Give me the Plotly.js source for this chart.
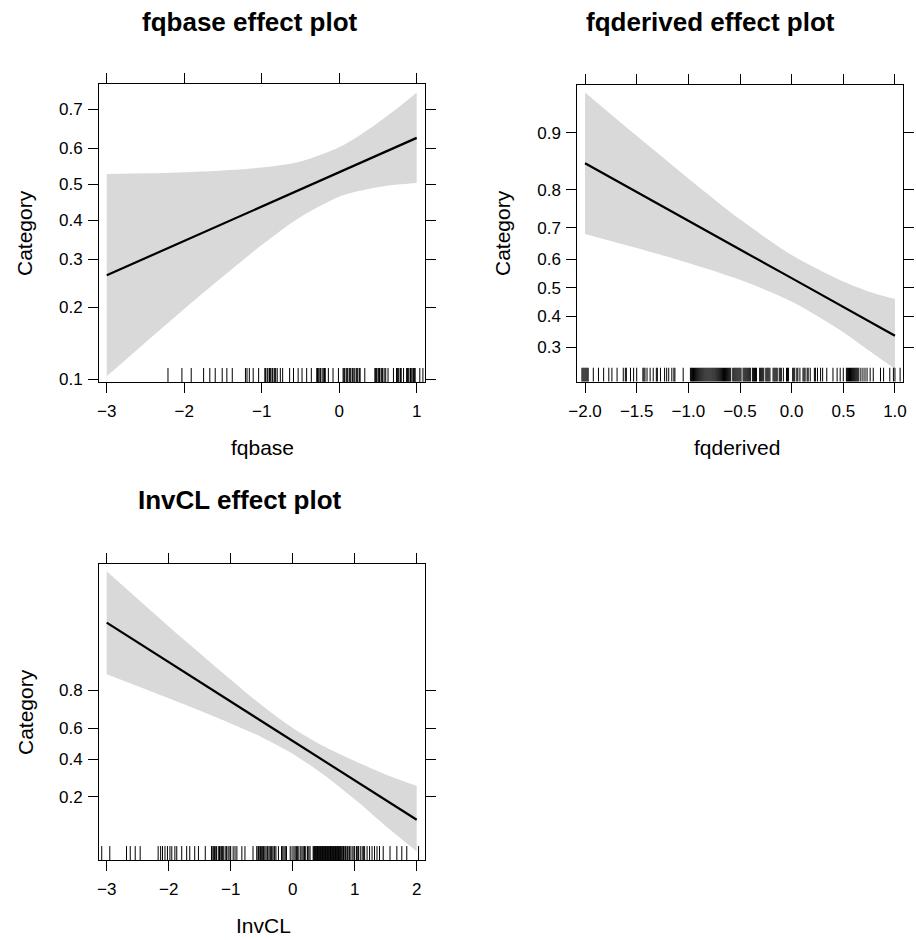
<!DOCTYPE html>
<html>
<head>
<meta charset="utf-8">
<script src="https://cdn.plot.ly/plotly-3.0.1.min.js"></script>
<style>html,body{margin:0;padding:0;background:#fff;}</style>
</head>
<body>
<div id="chart" style="width:916px;height:940px;"></div>
<script>
// ---------- data ----------
// Panel 1: fqbase
const fqbaseX     = [-3, -2, -1, -0.5, 0, 0.25, 0.5, 0.75, 1];
const fqbaseFit   = [0.264, 0.346, 0.438, 0.486, 0.534, 0.558, 0.582, 0.605, 0.628];
const fqbaseUpper = [0.529, 0.534, 0.547, 0.564, 0.603, 0.633, 0.667, 0.702, 0.738];
const fqbaseLower = [0.103, 0.197, 0.335, 0.409, 0.465, 0.481, 0.492, 0.4995, 0.504];
const fqbaseRug = [-2.21, -2.03, -1.91, -1.75, -1.67, -1.60, -1.51, -1.45, -1.38, -1.21, -1.19, -1.16, -1.11, -1.04,
  -0.96, -0.95, -0.93, -0.92, -0.90, -0.89, -0.88, -0.86, -0.84, -0.83, -0.82, -0.80, -0.76, -0.73, -0.64, -0.59,
  -0.53, -0.48, -0.42, -0.36, -0.29, -0.28, -0.27, -0.25, -0.24, -0.22, -0.20, -0.19, -0.18, -0.14, -0.08, -0.01,
  0.05, 0.06, 0.07, 0.09, 0.10, 0.11, 0.13, 0.14, 0.15, 0.17, 0.18, 0.20, 0.22, 0.23, 0.24, 0.26, 0.27, 0.33,
  0.46, 0.47, 0.48, 0.50, 0.51, 0.52, 0.54, 0.55, 0.56, 0.58, 0.60, 0.63, 0.70, 0.74, 0.75, 0.76, 0.77, 0.79, 0.80,
  0.83, 0.87, 0.88, 0.89, 0.90, 0.92, 0.93, 0.95, 0.96, 0.97, 0.98, 1.04, 1.08];
const fqbaseXTicks = [-3, -2, -1, 0, 1];
const fqbaseYTicks = [0.1, 0.2, 0.3, 0.4, 0.5, 0.6, 0.7];

// Panel 2: fqderived
const fqderivedX     = [-2, -1.5, -1, -0.5, 0, 0.5, 0.75, 1];
const fqderivedFit   = [0.854, 0.795, 0.721, 0.632, 0.534, 0.432, 0.383, 0.336];
const fqderivedUpper = [0.941, 0.896, 0.825, 0.725, 0.614, 0.522, 0.486, 0.460];
const fqderivedLower = [0.682, 0.637, 0.587, 0.528, 0.451, 0.347, 0.290, 0.240];
const fqderivedRug = [-2.03, -2.02, -2.01, -2.0, -1.99, -1.98, -1.97, -1.92, -1.87, -1.82, -1.77, -1.74, -1.69, -1.63,
  -1.61, -1.60, -1.56, -1.53, -1.50, -1.44, -1.43, -1.42, -1.40, -1.37, -1.34, -1.31, -1.30, -1.27, -1.23, -1.21,
  -1.19, -1.16, -1.14, -1.13, -1.05, -0.98, -0.97, -0.96, -0.95, -0.94, -0.93, -0.92, -0.91, -0.90, -0.89, -0.88,
  -0.87, -0.86, -0.85, -0.84, -0.83, -0.82, -0.81, -0.80, -0.79, -0.78, -0.77, -0.76, -0.75, -0.74, -0.73, -0.72,
  -0.71, -0.70, -0.69, -0.68, -0.67, -0.66, -0.65, -0.64, -0.63, -0.62, -0.61, -0.60, -0.59, -0.57, -0.56, -0.55,
  -0.54, -0.53, -0.52, -0.51, -0.50, -0.49, -0.47, -0.46, -0.45, -0.44, -0.43, -0.42, -0.41, -0.40, -0.38, -0.37,
  -0.36, -0.35, -0.34, -0.31, -0.30, -0.29, -0.28, -0.27, -0.25, -0.24, -0.23, -0.22, -0.21, -0.18, -0.17, -0.16,
  -0.15, -0.14, -0.12, -0.11, -0.10, -0.08, -0.05, -0.04, -0.03, 0.01, 0.02, 0.03, 0.05, 0.06, 0.08, 0.11, 0.12,
  0.13, 0.15, 0.16, 0.18, 0.22, 0.23, 0.25, 0.28, 0.30, 0.34, 0.40, 0.44, 0.47, 0.50, 0.53, 0.54, 0.55, 0.56, 0.57,
  0.58, 0.59, 0.60, 0.61, 0.62, 0.63, 0.64, 0.65, 0.67, 0.69, 0.71, 0.73, 0.76, 0.79, 0.86, 0.89, 0.95, 0.985, 1.0,
  1.05];
const fqderivedXTicks = [-2.0, -1.5, -1.0, -0.5, 0.0, 0.5, 1.0];
const fqderivedYTicks = [0.3, 0.4, 0.5, 0.6, 0.7, 0.8, 0.9];

// Panel 3: InvCL
const invclX     = [-3, -2, -1, -0.5, 0, 0.5, 1, 1.5, 2];
const invclFit   = [0.959, 0.893, 0.750, 0.642, 0.518, 0.392, 0.278, 0.187, 0.121];
const invclUpper = [0.9889, 0.955, 0.842, 0.731, 0.601, 0.483, 0.389, 0.310, 0.250];
const invclLower = [0.859, 0.765, 0.629, 0.542, 0.435, 0.308, 0.190, 0.105, 0.057];
const invclRug = [-3.08, -2.95, -2.68, -2.62, -2.54, -2.46, -2.17, -2.13, -2.10, -2.06, -2.02, -1.98, -1.95, -1.90,
  -1.87, -1.79, -1.71, -1.66, -1.58, -1.52, -1.41, -1.31, -1.30, -1.28, -1.26, -1.24, -1.23, -1.20, -1.18, -1.17,
  -1.15, -1.13, -1.12, -1.09, -1.07, -1.06, -1.03, -1.01, -1.00, -0.96, -0.93, -0.90, -0.82, -0.77, -0.64, -0.58,
  -0.56, -0.55, -0.53, -0.52, -0.50, -0.49, -0.47, -0.45, -0.43, -0.41, -0.40, -0.38, -0.36, -0.34, -0.32, -0.30,
  -0.29, -0.27, -0.23, -0.18, -0.16, -0.14, -0.12, -0.10, -0.04, -0.01, 0.02, 0.04, 0.06, 0.08, 0.10, 0.13, 0.15,
  0.17, 0.19, 0.21, 0.24, 0.26, 0.28, 0.33, 0.34, 0.35, 0.36, 0.37, 0.38, 0.39, 0.40, 0.41, 0.42, 0.43, 0.44, 0.45,
  0.46, 0.47, 0.48, 0.49, 0.50, 0.51, 0.52, 0.53, 0.54, 0.55, 0.56, 0.57, 0.58, 0.59, 0.60, 0.61, 0.62, 0.63, 0.64,
  0.65, 0.66, 0.67, 0.68, 0.69, 0.70, 0.71, 0.72, 0.73, 0.74, 0.75, 0.76, 0.77, 0.79, 0.80, 0.82, 0.83, 0.85, 0.86,
  0.88, 0.89, 0.91, 0.92, 0.94, 0.97, 0.99, 1.00, 1.03, 1.05, 1.06, 1.09, 1.12, 1.14, 1.16, 1.20, 1.24, 1.28, 1.32,
  1.36, 1.40, 1.46, 1.57, 1.68, 1.76, 1.84, 2.03];
const invclXTicks = [-3, -2, -1, 0, 1, 2];
const invclYTicks = [0.2, 0.4, 0.6, 0.8];

const titles = ["fqbase effect plot", "fqderived effect plot", "InvCL effect plot"];
const xTitles = ["fqbase", "fqderived", "InvCL"];
const yTitle = "Category";

// ---------- build ----------
const W = 916, H = 940;
const logit = p => Math.log(p / (1 - p));
const FONT = "Liberation Sans, Arial, Helvetica, sans-serif";

function bandTraces(x, up, lo, xa, ya) {
  const lower = {
    x: x, y: lo.map(logit), xaxis: xa, yaxis: ya, type: "scatter", mode: "lines",
    line: {width: 0, color: "rgba(0,0,0,0)", shape: "spline", smoothing: 0.8}, hoverinfo: "skip"
  };
  const upper = {
    x: x, y: up.map(logit), xaxis: xa, yaxis: ya, type: "scatter", mode: "lines",
    fill: "tonexty", fillcolor: "#d9d9d9",
    line: {width: 0, color: "rgba(0,0,0,0)", shape: "spline", smoothing: 0.8}, hoverinfo: "skip"
  };
  return [lower, upper];
}
function fitTrace(x, fit, xa, ya) {
  return {x: x, y: fit.map(logit), xaxis: xa, yaxis: ya, type: "scatter", mode: "lines",
    line: {color: "#000", width: 2.2}, hoverinfo: "skip"};
}
function rugTrace(r, xa, ya) {
  const xs = [], ys = [];
  r.forEach(v => { xs.push(v, v, null); ys.push(0, 0.047, null); });
  return {x: xs, y: ys, xaxis: xa, yaxis: ya, type: "scatter", mode: "lines",
    line: {color: "#000", width: 1}, hoverinfo: "skip"};
}

const data = [].concat(
  bandTraces(fqbaseX, fqbaseUpper, fqbaseLower, "x", "y"),
  [fitTrace(fqbaseX, fqbaseFit, "x", "y"), rugTrace(fqbaseRug, "x", "y4")],
  bandTraces(fqderivedX, fqderivedUpper, fqderivedLower, "x2", "y2"),
  [fitTrace(fqderivedX, fqderivedFit, "x2", "y2"), rugTrace(fqderivedRug, "x2", "y5")],
  bandTraces(invclX, invclUpper, invclLower, "x3", "y3"),
  [fitTrace(invclX, invclFit, "x3", "y3"), rugTrace(invclRug, "x3", "y6")]
);

const common = {
  showline: true, linecolor: "#000", linewidth: 1, mirror: "ticks",
  ticks: "outside", ticklen: 10, tickwidth: 1, tickcolor: "#000",
  showgrid: false, zeroline: false, fixedrange: true,
  tickfont: {family: FONT, size: 17, color: "#000"}
};
function xax(l, r, range, ticks, anchor, fmt) {
  return Object.assign({}, common, {domain: [l / W, r / W], range: range, anchor: anchor,
    tickmode: "array", tickvals: ticks, ticktext: ticks.map(v => (v < 0 ? "\u2212" : "") + Math.abs(v).toFixed(fmt)),
    ticklabelstandoff: 4});
}
function yax(t, b, range, ticks, anchor) {
  return Object.assign({}, common, {domain: [1 - b / H, 1 - t / H], range: range, anchor: anchor,
    tickmode: "array", tickvals: ticks.map(logit), ticktext: ticks.map(v => v.toFixed(1)),
    ticklabelstandoff: 2});
}
function rugAx(base, anchor) {
  return {overlaying: base, anchor: anchor, range: [0, 1], visible: false, fixedrange: true};
}

function ann(text, px, py, opts) {
  return Object.assign({text: text, xref: "paper", yref: "paper", x: px / W, y: 1 - py / H,
    xanchor: "center", yanchor: "middle", showarrow: false,
    font: {family: FONT, size: 21, color: "#000"}}, opts || {});
}
const boldFont = {family: FONT, size: 26, color: "#000", weight: "bold"};

const layout = {
  width: W, height: H, margin: {l: 0, r: 0, t: 0, b: 0},
  paper_bgcolor: "#fff", plot_bgcolor: "#fff", showlegend: false,
  xaxis:  xax(99, 425, [-3.1, 1.107], fqbaseXTicks, "y", 0),
  yaxis:  yax(84, 382, [-2.229, 1.131], fqbaseYTicks, "x"),
  xaxis2: xax(577.3, 902.7, [-2.075, 1.075], fqderivedXTicks, "y2", 1),
  yaxis2: yax(85, 381.7, [-1.333, 2.875], fqderivedYTicks, "x2"),
  xaxis3: xax(99, 425, [-3.124, 2.134], invclXTicks, "y3", 0),
  yaxis3: yax(564, 860, [-3.03, 4.68], invclYTicks, "x3"),
  yaxis4: rugAx("y", "x"),
  yaxis5: rugAx("y2", "x2"),
  yaxis6: rugAx("y3", "x3"),
  annotations: [
    ann("<b>" + titles[0] + "</b>", 250, 22, {font: boldFont}),
    ann("<b>" + titles[1] + "</b>", 710, 22, {font: boldFont}),
    ann("<b>" + titles[2] + "</b>", 240, 500, {font: boldFont}),
    ann(xTitles[0], 262, 447),
    ann(xTitles[1], 737, 447),
    ann(xTitles[2], 263, 925),
    ann(yTitle, 25, 233, {textangle: -90}),
    ann(yTitle, 503, 233, {textangle: -90}),
    ann(yTitle, 25, 712, {textangle: -90})
  ]
};

Plotly.newPlot("chart", data, layout, {displayModeBar: false, staticPlot: true});
</script>
</body>
</html>
